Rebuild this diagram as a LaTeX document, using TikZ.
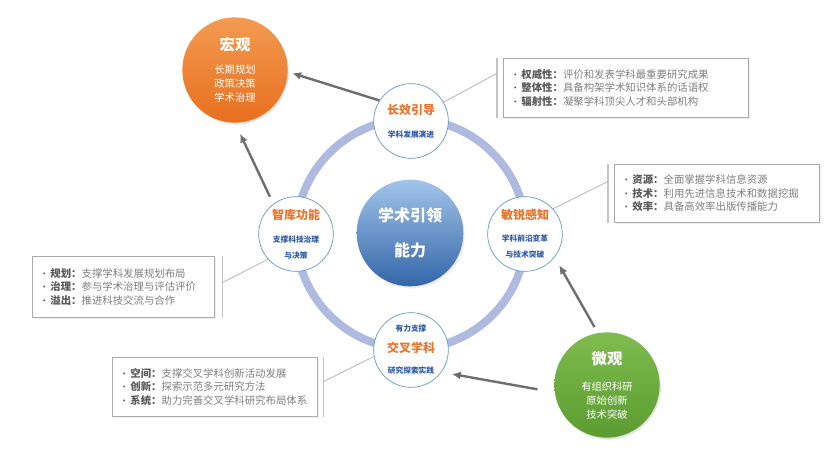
\documentclass[tikz,border=0pt]{standalone}
\usepackage{fontspec}
\setmainfont{Noto Sans CJK SC}
\usetikzlibrary{positioning,arrows.meta,shadows}

\definecolor{ringblue}{HTML}{AEBADF}
\definecolor{rimblue}{HTML}{5F93CE}
\definecolor{titleorange}{HTML}{E8742E}
\definecolor{subblue}{HTML}{2F5BA8}
\definecolor{arrowgray}{HTML}{6F6F6F}
\definecolor{boxgray}{HTML}{ABABAB}
\definecolor{textgray}{HTML}{808080}
\definecolor{labelgray}{HTML}{5A5A5A}
\definecolor{orangetop}{HTML}{F39B52}
\definecolor{orangebot}{HTML}{E76F1E}
\definecolor{greentop}{HTML}{80BC50}
\definecolor{greenbot}{HTML}{5B9B2F}
\definecolor{coretop}{HTML}{A2C4EA}
\definecolor{corebot}{HTML}{3366A8}

\newcommand{\ttl}[1]{{\fontsize{9}{10}\selectfont\bfseries\color{titleorange}#1}}
\newcommand{\subt}[1]{{\fontsize{5.8}{7}\selectfont\bfseries\color{subblue}#1}}
\newcommand{\itm}[2]{\makebox[9pt][l]{\hspace{1pt}\textcolor{labelgray}{\scriptsize •}}\textbf{\textcolor{labelgray}{#1}}#2}

\begin{document}
\begin{tikzpicture}[x=0.75pt, y=-0.75pt,
  ringnode/.style={circle, draw=rimblue, line width=0.5pt, fill=white, minimum size=56pt,
    inner sep=0pt, align=center, font=\fontsize{6}{12}\selectfont},
  bigball/.style={circle, minimum size=79pt, inner sep=0pt, align=center, text=white,
    font=\fontsize{7.7}{10.5}\selectfont, drop shadow={opacity=0.2, shadow xshift=1pt, shadow yshift=-1.5pt}},
  infobox/.style={draw=boxgray, line width=0.6pt, fill=white, anchor=north west, align=left,
    inner xsep=4.5pt, text=textgray, font=\fontsize{7.8}{10.2}\selectfont,
    drop shadow={opacity=0.12, shadow xshift=1pt, shadow yshift=-1pt}},
  arr/.style={draw=arrowgray, line width=1.8pt, -{Latex[length=6.5pt, width=6pt]}},
  brk/.style={draw=boxgray!70, line width=0.8pt},
  lnk/.style={draw=boxgray, line width=0.5pt}]

\useasboundingbox[fill=white] (0,0) rectangle (832,468);

% ring behind the four nodes
\draw[ringblue, line width=6pt] (411,234) circle[radius=115];

\node[circle, minimum size=80pt, inner sep=0pt, align=center, text=white,
  top color=coretop, bottom color=corebot, font=\fontsize{12}{14}\selectfont\bfseries,
  drop shadow={opacity=0.15, shadow xshift=1pt, shadow yshift=-1.5pt}] (core) at (410,233)
  {学术引领\\[12.25pt]能力};

\node[ringnode] (guide) at (411,121) {\ttl{长效引导}\\[5.5pt]\subt{学科发展演进}};
\node[ringnode] (sense) at (525,234) {\ttl{敏锐感知}\\[4.8pt]\subt{学科前沿变革}\\\subt{与技术突破}};
\node[ringnode] (think) at (296,234) {\ttl{智库功能}\\[4.8pt]\subt{支撑科技治理}\\\subt{与决策}};
\node[ringnode] (cross) at (411,350) {\subt{有力支撑}\\[3.5pt]\ttl{交叉学科}\\[4pt]\subt{研究探索实践}};

\node[bigball, top color=orangetop, bottom color=orangebot] (macro) at (235,70)
  {{\fontsize{11.5}{12}\selectfont\bfseries 宏观}\\[6.75pt]长期规划\\政策决策\\学术治理};
\node[bigball, top color=greentop, bottom color=greenbot] (micro) at (607,385)
  {{\fontsize{11.5}{12}\selectfont\bfseries 微观}\\[9pt]有组织科研\\原始创新\\技术突破};

% callout boxes
\node[infobox, text width=174.75pt, minimum height=44.25pt] (box1) at (503,58)
  {\itm{权威性：}{评价和发表学科最重要研究成果}\\
   \itm{整体性：}{具备构架学术知识体系的话语权}\\
   \itm{辐射性：}{凝聚学科顶尖人才和头部机构}};
\node[infobox, text width=144.75pt, minimum height=43.5pt] (box2) at (614,164)
  {\itm{资源：}{全面掌握学科信息资源}\\
   \itm{技术：}{利用先进信息技术和数据挖掘}\\
   \itm{效率：}{具备高效率出版传播能力}};
\node[infobox, text width=127.5pt, minimum height=45.75pt] (box3) at (32,256)
  {\itm{规划：}{支撑学科发展规划布局}\\
   \itm{治理：}{参与学术治理与评估评价}\\
   \itm{溢出：}{推进科技交流与合作}};
\node[infobox, text width=144.75pt, minimum height=44.25pt] (box4) at (112,357)
  {\itm{空间：}{支撑交叉学科创新活动发展}\\
   \itm{创新：}{探索示范多元研究方法}\\
   \itm{系统：}{助力完善交叉学科研究布局体系}};

% brackets beside the boxes
\draw[brk] ([xshift=-4.5pt]box1.north west) -- ([xshift=-4.5pt]box1.south west);
\draw[brk] ([xshift=-4.5pt]box2.north west) -- ([xshift=-4.5pt]box2.south west);
\draw[brk] ([xshift=6pt]box3.north east) -- ([xshift=6pt]box3.south east);
\draw[brk] ([xshift=4.5pt]box4.north east) -- ([xshift=4.5pt]box4.south east);

\coordinate[left=4.5pt of box1.west, yshift=10.9pt] (k1);
\coordinate[left=4.5pt of box2.west, yshift=9pt] (k2);
\coordinate[right=6pt of box3.east, yshift=3.4pt] (k3);
\coordinate[right=4.5pt of box4.east, yshift=4pt] (k4);

\draw[lnk] (guide.30) -- (k1);
\draw[lnk] (sense.42) -- (k2);
\draw[lnk] (think.222) -- (k3);
\draw[lnk] (cross.190) -- (k4);

% arrows
\path (guide.147) edge[arr, shorten >=3.5pt] (macro.-2);
\path (think.127) edge[arr, shorten <=6pt, shorten >=9pt] (macro.-90);
\path (micro.100) edge[arr, shorten <=5pt, shorten >=7pt] (sense.-38);
\path (micro.188) edge[arr, shorten <=13pt, shorten >=8pt] (cross.-36);

\end{tikzpicture}
\end{document}
